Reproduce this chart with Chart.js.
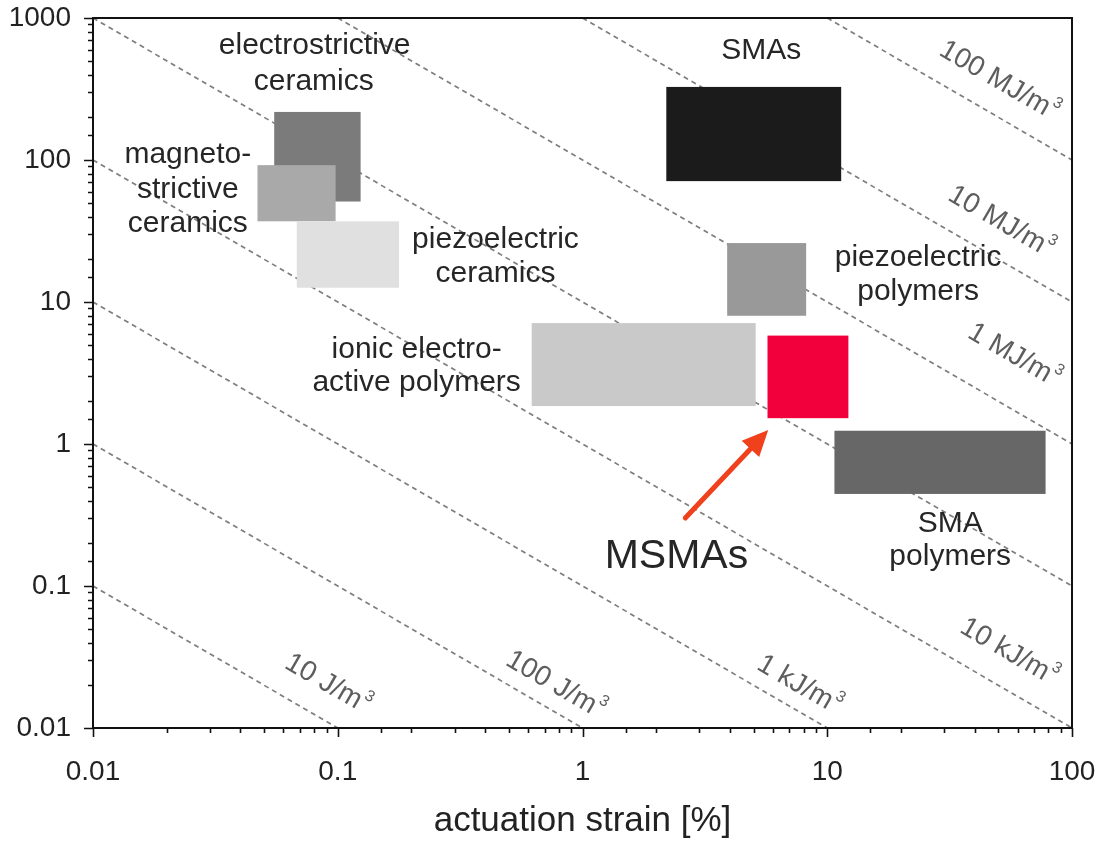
<!DOCTYPE html>
<html>
<head>
<meta charset="utf-8">
<script src="https://cdn.jsdelivr.net/npm/chart.js@4"></script>
<style>
  html, body { margin: 0; padding: 0; background: #fff; }
  canvas { display: block; }
</style>
</head>
<body>
<canvas id="c" width="1101" height="842"></canvas>
<script>
// ---------------- data ----------------
const materials = ['electrostrictive ceramics', 'magnetostrictive ceramics', 'piezoelectric ceramics', 'SMAs',
  'piezoelectric polymers', 'ionic electroactive polymers', 'MSMAs', 'SMA polymers'];
const strainMin = [0.055, 0.047, 0.068, 2.2, 3.9, 0.62, 5.7, 10.7];   // actuation strain [%]
const strainMax = [0.124, 0.098, 0.178, 11.4, 8.2, 5.1, 12.2, 78];
const stressMin = [51, 37, 12.6, 71, 8.0, 1.85, 1.52, 0.445];          // stress [MPa]
const stressMax = [218, 92, 37, 327, 26, 7.1, 5.8, 1.24];
const boxColors = ['#7b7b7b', '#a9a9a9', '#e0e0e0', '#1b1b1b', '#999999', '#c9c9c9', '#f2003c', '#676767'];

// iso-energy-density lines (strain x stress = const), start and end points
const energyX0 = [0.01, 0.01, 0.01, 0.01, 0.01, 0.1, 1, 10];
const energyY0 = [0.1, 1, 10, 100, 1000, 1000, 1000, 1000];
const energyX1 = [0.1, 1, 10, 100, 100, 100, 100, 100];
const energyY1 = [0.01, 0.01, 0.01, 0.01, 0.1, 1, 10, 100];
const energyLabels = ['10 J/m', '100 J/m', '1 kJ/m', '10 kJ/m', '', '1 MJ/m', '10 MJ/m', '100 MJ/m'];
const energyLabelX = [0.091, 0.776, 7.69, 55.3, null, 58.0, 51.3, 50.4];
const energyLabelY = [0.0204, 0.0201, 0.0201, 0.0343, null, 4.2, 36.6, 360];

const xTickLabels = ['0.01', '0.1', '1', '10', '100'];
const yTickLabels = ['0.01', '0.1', '1', '10', '100', '1000'];

// material text labels (one entry per text line), anchored in data units
const labelText = ['electrostrictive', 'ceramics', 'magneto-', 'strictive', 'ceramics', 'piezoelectric', 'ceramics',
  'SMAs', 'piezoelectric', 'polymers', 'ionic electro-', 'active polymers', 'MSMAs', 'SMA', 'polymers'];
const labelX = [0.0805, 0.0798, 0.0244, 0.0244, 0.0244, 0.441, 0.441, 5.38, 23.5, 23.5, 0.210, 0.210, 2.42, 31.8, 31.8];
const labelY = [640, 354, 108.4, 61.5, 35.4, 27.3, 15.7, 590, 20.4, 11.76, 4.59, 2.69, 0.160, 0.275, 0.160];
const labelBig = [false, false, false, false, false, false, false, false, false, false, false, false, true, false, false];

// MSMA arrow (data units)
const arrowFrom = [2.63, 0.301];
const arrowTo = [5.74, 1.256];

// ---------------- chart ----------------
const FONT = "'Liberation Sans', Arial, Helvetica, sans-serif";

function decadeIndex(v) {
  const l = Math.log10(v);
  const r = Math.round(l);
  return Math.abs(l - r) < 1e-6 ? r : null;
}

const datasets = energyX0.map((x0, i) => ({
  type: 'line',
  data: [{x: x0, y: energyY0[i]}, {x: energyX1[i], y: energyY1[i]}],
  borderColor: '#7e7e7e',
  borderWidth: 1.7,
  borderDash: [5, 4],
  pointRadius: 0,
  fill: false,
  showLine: true
}));

const overlay = {
  id: 'overlay',
  afterDatasetsDraw(chart) {
    const {ctx, scales: {x, y}} = chart;
    ctx.save();
    // boxes
    for (let i = 0; i < materials.length; i++) {
      const x0 = x.getPixelForValue(strainMin[i]);
      const x1 = x.getPixelForValue(strainMax[i]);
      const y0 = y.getPixelForValue(stressMax[i]);
      const y1 = y.getPixelForValue(stressMin[i]);
      ctx.fillStyle = boxColors[i];
      ctx.fillRect(x0, y0, x1 - x0, y1 - y0);
    }
    // energy line labels
    const ang = Math.atan2(y.getPixelForValue(0.1) - y.getPixelForValue(1),
                           x.getPixelForValue(10) - x.getPixelForValue(1));
    ctx.fillStyle = '#5e5e5e';
    ctx.textBaseline = 'middle';
    ctx.textAlign = 'left';
    for (let i = 0; i < energyLabels.length; i++) {
      if (!energyLabels[i]) continue;
      const px = x.getPixelForValue(energyLabelX[i]);
      const py = y.getPixelForValue(energyLabelY[i]);
      ctx.save();
      ctx.translate(px, py);
      ctx.rotate(ang);
      ctx.font = '28px ' + FONT;
      const w1 = ctx.measureText(energyLabels[i]).width;
      ctx.font = '16px ' + FONT;
      const w2 = ctx.measureText('3').width;
      const start = -(w1 + w2 + 1) / 2;
      ctx.font = '28px ' + FONT;
      ctx.fillText(energyLabels[i], start, 0);
      ctx.font = '16px ' + FONT;
      ctx.fillText('3', start + w1 + 1, -10);
      ctx.restore();
    }
    // material labels
    ctx.fillStyle = '#262626';
    ctx.textAlign = 'center';
    ctx.textBaseline = 'middle';
    for (let i = 0; i < labelText.length; i++) {
      ctx.font = (labelBig[i] ? '41px ' : '30px ') + FONT;
      ctx.fillText(labelText[i], x.getPixelForValue(labelX[i]), y.getPixelForValue(labelY[i]));
    }
    // arrow
    const ax0 = x.getPixelForValue(arrowFrom[0]), ay0 = y.getPixelForValue(arrowFrom[1]);
    const ax1 = x.getPixelForValue(arrowTo[0]), ay1 = y.getPixelForValue(arrowTo[1]);
    const a = Math.atan2(ay1 - ay0, ax1 - ax0);
    const headL = 26, headW = 12;
    const bx = ax1 - headL * Math.cos(a), by = ay1 - headL * Math.sin(a);
    ctx.strokeStyle = '#f0401c';
    ctx.fillStyle = '#f0401c';
    ctx.lineWidth = 5;
    ctx.lineCap = 'round';
    ctx.beginPath();
    ctx.moveTo(ax0, ay0);
    ctx.lineTo(bx + 2 * Math.cos(a), by + 2 * Math.sin(a));
    ctx.stroke();
    ctx.beginPath();
    ctx.moveTo(ax1, ay1);
    ctx.lineTo(bx + headW * Math.sin(a), by - headW * Math.cos(a));
    ctx.lineTo(bx - headW * Math.sin(a), by + headW * Math.cos(a));
    ctx.closePath();
    ctx.fill();
    ctx.restore();
  },
  afterDraw(chart) {
    const {ctx, chartArea: ca, scales: {x, y}} = chart;
    ctx.save();
    ctx.strokeStyle = '#111';
    // ticks
    ctx.lineWidth = 1.6;
    ctx.beginPath();
    x.ticks.forEach(t => {
      const px = Math.round(x.getPixelForValue(t.value)) + 0.5;
      const len = decadeIndex(t.value) !== null ? 9 : 5;
      ctx.moveTo(px, ca.bottom);
      ctx.lineTo(px, ca.bottom + len);
    });
    y.ticks.forEach(t => {
      const py = Math.round(y.getPixelForValue(t.value)) + 0.5;
      const len = decadeIndex(t.value) !== null ? 9 : 5;
      ctx.moveTo(ca.left, py);
      ctx.lineTo(ca.left - len, py);
    });
    ctx.stroke();
    // frame
    ctx.lineWidth = 2;
    ctx.strokeRect(ca.left, ca.top, ca.right - ca.left, ca.bottom - ca.top);
    ctx.restore();
  }
};

new Chart(document.getElementById('c'), {
  type: 'scatter',
  data: { datasets },
  plugins: [overlay],
  options: {
    responsive: false,
    animation: false,
    devicePixelRatio: 1,
    layout: { padding: { left: 0, right: 29, top: 18, bottom: 0 } },
    plugins: { legend: { display: false }, tooltip: { enabled: false } },
    scales: {
      x: {
        type: 'logarithmic', min: 0.01, max: 100, position: 'bottom',
        afterFit: s => { s.height = 114; },
        grid: { display: true, drawOnChartArea: false, drawTicks: true, tickLength: 23, color: 'transparent' },
        border: { display: false },
        ticks: {
          autoSkip: false, maxRotation: 0, minRotation: 0, padding: 4, color: '#222',
          font: { family: FONT, size: 28 },
          callback: v => { const d = decadeIndex(v); return d === null ? '' : xTickLabels[d + 2]; }
        },
        title: { display: true, text: 'actuation strain [%]', color: '#222',
          font: { family: FONT, size: 35 }, padding: { top: 0, bottom: 0 } }
      },
      y: {
        type: 'logarithmic', min: 0.01, max: 1000, position: 'left',
        afterFit: s => { s.width = 93; },
        grid: { display: true, drawOnChartArea: false, drawTicks: true, tickLength: 21, color: 'transparent' },
        border: { display: false },
        ticks: {
          autoSkip: false, padding: 1, color: '#222',
          font: { family: FONT, size: 28 },
          callback: v => { const d = decadeIndex(v); return d === null ? '' : yTickLabels[d + 2]; }
        }
      }
    }
  }
});
</script>
</body>
</html>
